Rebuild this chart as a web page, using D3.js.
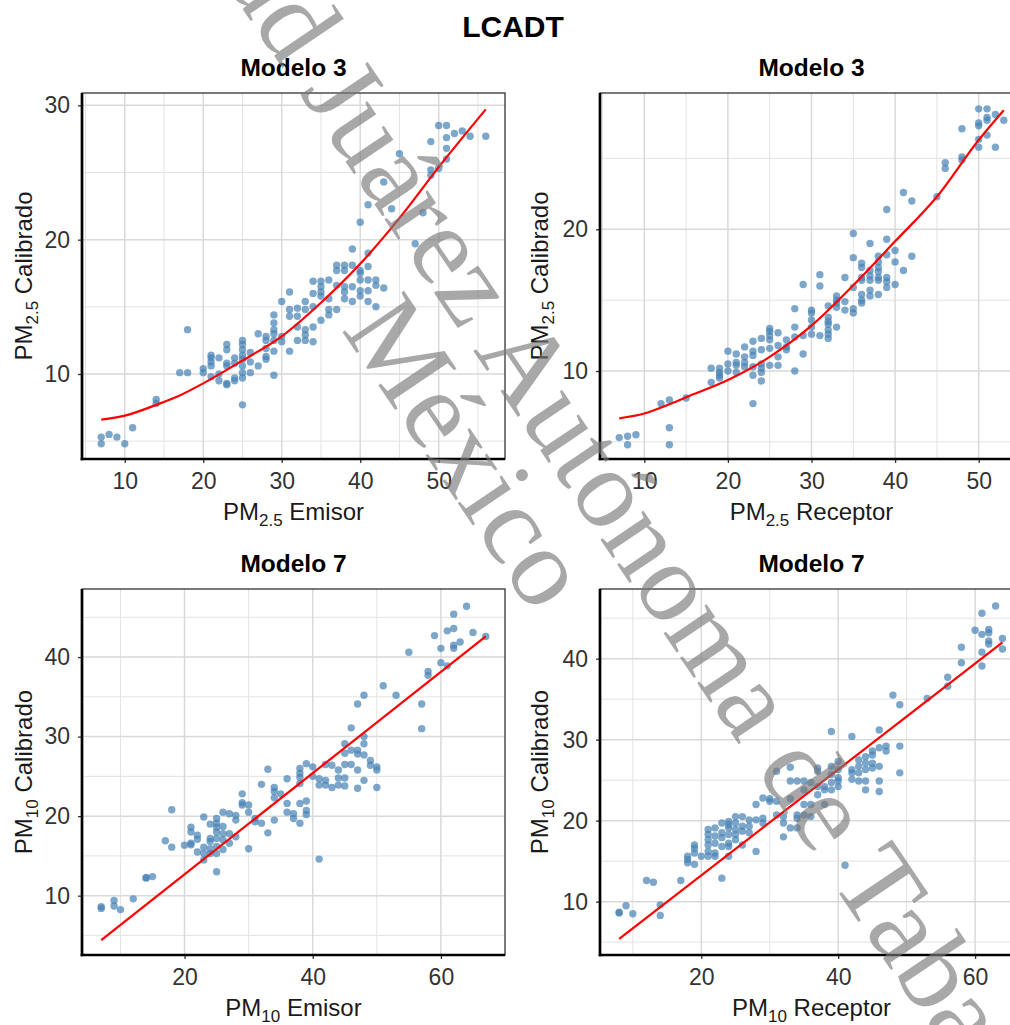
<!DOCTYPE html>
<html><head><meta charset="utf-8">
<script src="https://cdn.jsdelivr.net/npm/d3@7"></script>
<style>body{margin:0;background:#fff} svg{display:block}</style>
</head><body>
<svg id="chart" width="1010" height="1025"></svg>
<script>
// ---------------- DATA ----------------
const mainTitle = "LCADT";
const panelTitles = ["Modelo 3", "Modelo 3", "Modelo 7", "Modelo 7"];
const xTitleParts = [["PM", "2.5", " Emisor"], ["PM", "2.5", " Receptor"], ["PM", "10", " Emisor"], ["PM", "10", " Receptor"]];
const yTitleParts = [["PM", "2.5", " Calibrado"], ["PM", "2.5", " Calibrado"], ["PM", "10", " Calibrado"], ["PM", "10", " Calibrado"]];
const watermarkLines = ["Universidad Juárez Autónoma de Tabasco", "México"];

// axis limits (ggplot expanded) and ticks
const xDomains = [[4.55, 58.45], [4.7, 55.3], [4.0, 70.0], [5.2, 67.0]];
const yDomains = [[3.67, 30.92], [3.79, 29.62], [2.54, 48.56], [3.41, 48.6]];
const xTicksPM25 = [10, 20, 30, 40, 50];
const xMinorPM25 = [5, 15, 25, 35, 45, 55];
const yTicksPM25 = [10, 20, 30];
const yMinorPM25 = [5, 15, 25];
const xTicksPM10 = [20, 40, 60];
const xMinorPM10 = [10, 30, 50];
const yTicksPM10 = [10, 20, 30, 40];
const yMinorPM10 = [5, 15, 25, 35, 45];

// Modelo 3 - PM2.5 Emisor vs Calibrado
const m3Emisor = [
 [7,5.3],[7,4.8],[8,5.5],[9,5.3],[10,4.8],[11,6.0],[14,8.1],[14,7.8],[17,10.1],[18,10.1],[18,13.3],
 [20,10.4],[20,10.1],
 [21,11.4],[21,11.2],[21,10.9],[21,10.6],[21,9.8],
 [22,11.2],[22,10.0],[22,9.5],
 [23,12.2],[23,11.8],[23,10.8],[23,10.6],[23,9.3],[23,9.2],
 [24,11.2],[24,10.8],[24,9.7],[24,9.5],
 [25,12.5],[25,12.2],[25,11.8],[25,11.4],[25,11.1],[25,10.6],[25,10.1],[25,9.7],[25,7.7],
 [26,11.6],[26,10.9],[26,10.1],
 [27,13.0],[27,10.6],
 [28,12.8],[28,12.5],[28,11.9],[28,11.3],[28,11.1],
 [29,14.4],[29,13.8],[29,13.3],[29,13.0],[29,12.5],[29,11.7],[29,9.9],
 [30,15.4],[30,12.8],[30,12.4],
 [31,16.1],[31,14.8],[31,14.3],[31,11.7],
 [32,14.9],[32,14.3],[32,13.5],[32,12.5],
 [33,15.4],[33,14.8],[33,13.3],[33,12.9],[33,12.5],
 [34,16.9],[34,16.0],[34,15.0],[34,13.5],[34,12.4],
 [35,16.9],[35,16.5],[35,16.1],[35,15.8],[35,14.0],
 [36,17.0],[36,15.6],[36,14.8],[36,14.4],
 [37,18.1],[37,17.7],[37,16.6],[37,14.8],
 [38,18.1],[38,17.7],[38,16.5],[38,16.1],[38,15.6],
 [39,19.3],[39,18.1],[39,16.5],[39,15.4],
 [40,21.3],[40,17.7],[40,17.5],[40,17.0],[40,16.2],[40,15.8],
 [41,22.6],[41,19.0],[41,18.0],[41,17.0],[41,16.2],[41,15.4],
 [42,17.0],[42,16.6],[42,15.0],
 [43,24.3],[43,16.4],
 [44,22.3],[45,26.4],[47,19.7],[48,22.0],
 [49,27.3],[49,25.2],[49,24.8],
 [50,28.5],[50,25.3],
 [51,28.5],[51,27.6],[51,26.8],[51,26.0],
 [52,27.9],[53,28.1],[54,27.7],[56,27.7]
];
const m3EmisorFitX = [7, 10, 14, 17, 20, 25, 30, 35, 40, 45, 50, 56];
const m3EmisorFitY = [6.6, 6.9, 7.7, 8.4, 9.3, 11.0, 12.8, 15.3, 18.2, 21.6, 25.4, 29.7];

// Modelo 3 - PM2.5 Receptor vs Calibrado
const m3Receptor = [
 [7,5.3],[8,5.4],[8,4.8],[9,5.5],[12,7.7],[13,7.95],[13,6.0],[13,4.8],[15,8.1],
 [18,10.2],[18,9.2],
 [19,10.2],[19,9.9],[19,9.7],[19,9.5],
 [20,11.4],[20,10.5],[20,10.0],
 [21,11.2],[21,10.6],[21,10.4],[21,9.9],
 [22,11.7],[22,11.0],[22,10.6],[22,10.3],
 [23,12.1],[23,11.4],[23,11.1],[23,10.3],[23,9.7],[23,7.7],
 [24,12.3],[24,11.5],[24,10.5],[24,10.2],[24,9.9],[24,9.3],
 [25,13.0],[25,12.8],[25,12.5],[25,12.2],[25,11.6],[25,10.4],
 [26,12.7],[26,11.8],[26,11.0],[26,10.4],
 [27,12.2],[27,11.7],[27,11.5],
 [28,14.4],[28,13.1],[28,12.4],[28,10.0],
 [29,16.1],[29,12.5],[29,11.2],
 [30,14.3],[30,14.1],[30,13.6],[30,13.1],[30,12.6],
 [31,16.8],[31,16.0],[31,12.5],
 [32,14.6],[32,13.8],[32,13.5],[32,13.3],[32,12.9],[32,12.6],[32,12.3],
 [33,15.3],[33,15.0],[33,14.8],[33,14.5],[33,13.1],
 [34,16.6],[34,14.9],[34,14.3],
 [35,19.7],[35,18.0],[35,15.9],[35,14.4],[35,14.1],
 [36,17.6],[36,17.3],[36,16.6],[36,16.4],[36,15.4],[36,15.0],[36,14.8],
 [37,19.0],[37,17.1],[37,16.7],[37,16.4],[37,15.7],[37,15.3],
 [38,18.1],[38,17.7],[38,17.3],[38,17.0],[38,16.6],[38,16.4],[38,15.4],
 [39,21.4],[39,19.3],[39,18.2],[39,16.6],[39,16.3],[39,15.9],
 [40,18.5],[40,17.7],[40,16.1],
 [41,22.6],[41,17.1],
 [42,22.0],[42,18.1],
 [45,22.3],[46,24.7],[46,24.3],
 [48,27.1],[48,25.1],[48,24.9],
 [50,28.5],[50,27.5],[50,27.3],[50,26.35],[50,25.8],
 [51,28.5],[51,27.9],[51,27.7],[51,26.65],
 [52,28.1],[52,25.8],[53,27.7]
];
const m3ReceptorFitX = [7, 10, 13, 15, 20, 25, 30, 35, 40, 45, 50, 53];
const m3ReceptorFitY = [6.66, 7.0, 7.65, 8.15, 9.36, 11.0, 13.2, 16.05, 19.15, 22.3, 26.3, 28.4];

// Modelo 7 - PM10 Emisor vs Calibrado
const m7Emisor = [
 [7,8.6],[7,8.4],[9,9.4],[9,8.7],[10,8.25],[12,9.6],[14,12.3],[14,12.2],[15,12.4],[17,16.9],[18,20.8],[18,16.1],
 [20,16.35],
 [21,18.6],[21,18.0],[21,16.6],[21,16.4],
 [22,17.6],[22,17.1],[22,15.5],
 [23,19.9],[23,16.1],[23,15.3],[23,14.5],
 [24,19.0],[24,17.2],[24,16.8],[24,15.9],[24,15.3],
 [25,19.7],[25,19.1],[25,18.6],[25,18.0],[25,17.2],[25,16.2],[25,15.3],[25,13.0],
 [26,20.5],[26,18.7],[26,17.8],[26,17.0],[26,15.8],
 [27,20.3],[27,17.8],[27,16.6],
 [28,20.1],[28,19.5],[28,17.4],
 [29,22.8],[29,21.7],[29,21.4],
 [30,21.4],[30,20.5],[30,15.9],
 [31,19.7],[31,19.3],
 [32,24.0],[32,19.1],
 [33,25.9],[33,17.9],
 [34,23.6],[34,23.1],[34,22.3],[34,19.5],
 [35,22.8],
 [36,24.7],[36,21.6],[36,20.5],
 [37,20.3],[37,19.7],
 [38,26.0],[38,25.4],[38,24.9],[38,24.1],[38,21.6],[38,19.1],
 [39,26.6],[39,21.9],[39,20.7],[39,20.2],
 [40,26.2],[40,25.0],
 [41,24.7],[41,23.9],[41,14.6],
 [42,26.5],[42,24.5],[42,23.9],
 [43,26.4],[43,23.6],
 [44,25.8],[44,24.8],[44,23.9],
 [45,29.1],[45,27.9],[45,26.5],[45,24.8],[45,23.8],
 [46,31.1],[46,28.3],[46,26.5],
 [47,34.1],[47,28.3],[47,27.8],[47,25.8],[47,23.5],
 [48,35.2],[48,30.0],[48,29.1],[48,27.7],[48,24.5],
 [49,27.0],[49,26.4],
 [50,26.2],[50,25.8],[50,23.6],
 [51,36.4],[53,35.2],[55,40.6],[57,34.1],[57,31.0],[58,38.2],[58,37.7],[59,42.7],
 [60,41.1],[60,39.3],[61,43.3],[61,38.9],[62,45.4],[62,43.6],[62,41.5],[62,41.1],
 [63,41.9],[64,46.4],[65,43.1],[67,42.6]
];
const m7EmisorFitX = [7, 67];
const m7EmisorFitY = [4.4, 42.6];

// Modelo 7 - PM10 Receptor vs Calibrado
const m7Receptor = [
 [8,8.7],[8,8.6],[9,9.5],[10,8.5],[12,12.6],[13,12.4],[14,9.6],[14,8.3],[17,12.6],
 [18,15.6],[18,15.2],[18,14.8],
 [19,17.0],[19,16.6],[19,16.0],[19,14.6],
 [20,15.6],
 [21,18.9],[21,18.3],[21,17.65],[21,17.0],[21,16.2],[21,15.6],
 [22,19.1],[22,18.1],[22,17.2],[22,16.0],[22,15.6],
 [23,19.7],[23,18.5],[23,17.9],[23,16.8],[23,12.9],
 [24,19.9],[24,19.5],[24,19.1],[24,18.3],[24,17.2],[24,16.8],[24,15.6],
 [25,20.5],[25,19.7],[25,18.9],[25,18.3],[25,17.65],
 [26,20.5],[26,19.3],[26,18.7],[26,17.0],
 [27,20.1],[27,19.3],[27,18.5],
 [28,22.0],[28,20.1],[28,16.2],
 [29,22.8],[29,20.3],[29,19.7],
 [30,22.7],[30,22.4],
 [31,26.1],[31,22.4],[31,20.7],
 [32,20.5],[32,19.7],[32,18.0],
 [33,26.6],[33,24.9],[33,22.7],[33,19.1],
 [34,24.9],[34,20.7],[34,20.3],[34,19.1],
 [35,24.9],[35,23.8],[35,22.0],[35,20.7],
 [36,24.7],[36,22.0],[36,20.5],
 [37,26.5],[37,26.1],[37,24.2],[37,23.2],
 [38,24.2],[38,23.8],[38,22.0],
 [39,31.0],[39,26.7],[39,25.7],[39,24.7],[39,23.8],
 [40,27.3],[40,26.3],[40,25.3],[40,24.9],[40,24.2],
 [41,14.5],
 [42,30.4],[42,26.3],[42,25.9],[42,25.1],
 [43,27.5],[43,26.7],[43,25.9],[43,24.9],
 [44,27.9],[44,27.1],[44,26.3],[44,24.9],[44,23.8],
 [45,28.6],[45,28.1],[45,27.1],[45,26.5],
 [46,31.2],[46,29.0],[46,26.7],[46,24.9],[46,23.6],
 [47,29.2],[47,28.6],
 [48,35.5],
 [49,34.3],[49,29.2],[49,25.9],
 [53,35.1],[56,37.7],[56,36.6],[58,41.4],[58,39.5],[60,43.5],
 [61,45.6],[61,43.0],[61,40.8],[61,39.1],
 [62,43.6],[62,43.2],[62,42.2],[62,41.8],
 [63,46.5],[64,42.5],[64,41.2]
];
const m7ReceptorFitX = [8, 64];
const m7ReceptorFitY = [5.4, 42.0];

// ---------------- DRAW ----------------
const sans = "'Liberation Sans', Arial, Helvetica, sans-serif";
const svg = d3.select("#chart");
svg.append("rect").attr("width", 1010).attr("height", 1025).attr("fill", "#fff");

const panelLeft = [82, 600, 82, 600];
const panelTop = [93, 93, 589, 589];
const PW = 423, PH = 366;

const panels = [
  {pts: m3Emisor, fx: m3EmisorFitX, fy: m3EmisorFitY, xt: xTicksPM25, xm: xMinorPM25, yt: yTicksPM25, ym: yMinorPM25},
  {pts: m3Receptor, fx: m3ReceptorFitX, fy: m3ReceptorFitY, xt: xTicksPM25, xm: xMinorPM25, yt: yTicksPM25, ym: yMinorPM25},
  {pts: m7Emisor, fx: m7EmisorFitX, fy: m7EmisorFitY, xt: xTicksPM10, xm: xMinorPM10, yt: yTicksPM10, ym: yMinorPM10},
  {pts: m7Receptor, fx: m7ReceptorFitX, fy: m7ReceptorFitY, xt: xTicksPM10, xm: xMinorPM10, yt: yTicksPM10, ym: yMinorPM10}
];

svg.append("text").attr("x", 513).attr("y", 37).attr("text-anchor", "middle")
  .attr("font-family", sans).attr("font-weight", "bold").attr("font-size", 30)
  .attr("fill", "#000").text(mainTitle);

function subText(sel, parts, size, subSize, shift) {
  sel.append("tspan").text(parts[0]);
  sel.append("tspan").attr("font-size", subSize).attr("dy", shift).text(parts[1]);
  sel.append("tspan").attr("dy", -shift).text(parts[2]);
}

panels.forEach((p, i) => {
  const L = panelLeft[i], T = panelTop[i];
  const x = d3.scaleLinear().domain(xDomains[i]).range([L, L + PW]);
  const y = d3.scaleLinear().domain(yDomains[i]).range([T + PH, T]);
  const g = svg.append("g");
  const clipId = "clip" + i;
  svg.append("clipPath").attr("id", clipId).append("rect")
    .attr("x", L).attr("y", T).attr("width", PW).attr("height", PH);
  const inner = g.append("g").attr("clip-path", `url(#${clipId})`);

  // grid
  inner.selectAll(".vmin").data(p.xm).join("line")
    .attr("x1", d => x(d)).attr("x2", d => x(d)).attr("y1", T).attr("y2", T + PH)
    .attr("stroke", "#e3e3e3").attr("stroke-width", 1);
  inner.selectAll(".hmin").data(p.ym).join("line")
    .attr("y1", d => y(d)).attr("y2", d => y(d)).attr("x1", L).attr("x2", L + PW)
    .attr("stroke", "#e3e3e3").attr("stroke-width", 1);
  inner.selectAll(".vmaj").data(p.xt).join("line")
    .attr("x1", d => x(d)).attr("x2", d => x(d)).attr("y1", T).attr("y2", T + PH)
    .attr("stroke", "#d9d9d9").attr("stroke-width", 1.5);
  inner.selectAll(".hmaj").data(p.yt.filter(v => v >= yDomains[i][0] && v <= yDomains[i][1])).join("line")
    .attr("y1", d => y(d)).attr("y2", d => y(d)).attr("x1", L).attr("x2", L + PW)
    .attr("stroke", "#d9d9d9").attr("stroke-width", 1.5);

  // points
  inner.selectAll("circle").data(p.pts).join("circle")
    .attr("cx", d => x(d[0])).attr("cy", d => y(d[1])).attr("r", 3.7)
    .attr("fill", "#4682b4").attr("fill-opacity", 0.7);

  // fit line
  const fit = p.fx.map((v, k) => [v, p.fy[k]]);
  inner.append("path").datum(fit)
    .attr("d", d3.line().x(d => x(d[0])).y(d => y(d[1])).curve(d3.curveMonotoneX))
    .attr("fill", "none").attr("stroke", "#ff0000").attr("stroke-width", 2.2);

  // border
  g.append("rect").attr("x", L).attr("y", T).attr("width", PW).attr("height", PH)
    .attr("fill", "none").attr("stroke", "#333").attr("stroke-width", 1.3);

  // axes
  const xAxis = d3.axisBottom(x).tickValues(p.xt).tickSize(4).tickPadding(10).tickFormat(d3.format("d"));
  const yAxis = d3.axisLeft(y).tickValues(p.yt.filter(v => v >= yDomains[i][0] && v <= yDomains[i][1]))
    .tickSize(4).tickPadding(8).tickFormat(d3.format("d"));
  const gx = g.append("g").attr("transform", `translate(0,${T + PH})`).call(xAxis);
  const gy = g.append("g").attr("transform", `translate(${L},0)`).call(yAxis);
  [gx, gy].forEach(a => {
    a.select(".domain").remove();
    a.selectAll(".tick line").attr("stroke", "#333").attr("stroke-width", 1.3);
    a.selectAll(".tick text").attr("font-family", sans).attr("font-size", 23).attr("fill", "#333");
  });
  // axis lines (thick)
  g.append("line").attr("x1", L).attr("x2", L).attr("y1", T).attr("y2", T + PH + 1.3)
    .attr("stroke", "#000").attr("stroke-width", 2.7);
  g.append("line").attr("x1", L - 1.3).attr("x2", L + PW).attr("y1", T + PH).attr("y2", T + PH)
    .attr("stroke", "#000").attr("stroke-width", 2.7);

  // panel title
  g.append("text").attr("x", L + PW / 2).attr("y", T - 17).attr("text-anchor", "middle")
    .attr("font-family", sans).attr("font-weight", "bold").attr("font-size", 24.5)
    .attr("fill", "#000").text(panelTitles[i]);

  // x title
  const xt = g.append("text").attr("x", L + PW / 2).attr("y", T + PH + 61).attr("text-anchor", "middle")
    .attr("font-family", sans).attr("font-size", 24).attr("fill", "#1a1a1a");
  subText(xt, xTitleParts[i], 24, 17, 6);

  // y title
  const yx = i % 2 === 0 ? L - 50 : L - 52;
  const yt = g.append("text").attr("transform", `translate(${yx},${T + PH / 2}) rotate(-90)`)
    .attr("text-anchor", "middle").attr("font-family", sans).attr("font-size", 24).attr("fill", "#1a1a1a");
  subText(yt, yTitleParts[i], 24, 17, 6);
});

// watermark
const wm = svg.append("g").attr("transform", "translate(505,398) rotate(56)")
  .attr("font-family", "'Liberation Serif', 'Times New Roman', serif").attr("font-size", 113)
  .attr("fill", "#7a7a7a").attr("fill-opacity", 0.65).attr("text-anchor", "middle");
wm.append("text").attr("x", 0).attr("y", 0).text(watermarkLines[0]);
wm.append("text").attr("x", 24).attr("y", 98).text(watermarkLines[1]);
</script>
</body></html>
